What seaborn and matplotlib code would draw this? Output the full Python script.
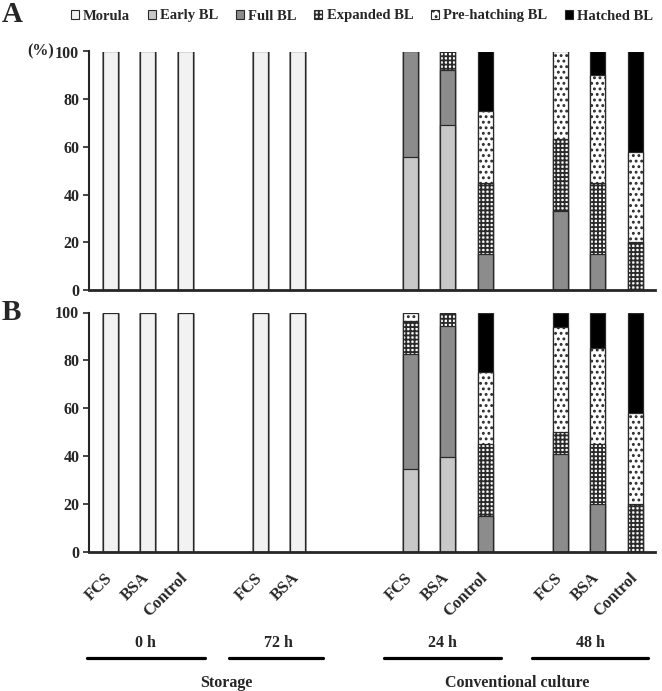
import numpy as np
import pandas as pd
import matplotlib
matplotlib.use("Agg")
import matplotlib.pyplot as plt
import matplotlib.transforms as mtransforms
from matplotlib.patches import Patch
from matplotlib.lines import Line2D
import seaborn as sns

# ---------------- data ----------------
stages = ["Morula", "Early BL", "Full BL", "Expanded BL", "Pre-hatching BL", "Hatched BL"]
treatments = ["FCS", "BSA", "Control", "FCS", "BSA", "FCS", "BSA", "Control", "FCS", "BSA", "Control"]
times = ["0 h", "0 h", "0 h", "72 h", "72 h", "24 h", "24 h", "24 h", "48 h", "48 h", "48 h"]

# Panel A (%)
morula_A   = [100, 100, 100, 100, 100, 0, 0, 0, 0, 0, 0]
early_A    = [0, 0, 0, 0, 0, 55.6, 69.2, 0, 0, 0, 0]
full_A     = [0, 0, 0, 0, 0, 44.4, 23.1, 15, 33.3, 15, 0]
expanded_A = [0, 0, 0, 0, 0, 0, 7.7, 30, 30, 30, 20]
prehatch_A = [0, 0, 0, 0, 0, 0, 0, 30, 36.7, 45, 38]
hatched_A  = [0, 0, 0, 0, 0, 0, 0, 25, 0, 10, 42]

# Panel B (%)
morula_B   = [100, 100, 100, 100, 100, 0, 0, 0, 0, 0, 0]
early_B    = [0, 0, 0, 0, 0, 34.5, 39.5, 0, 0, 0, 0]
full_B     = [0, 0, 0, 0, 0, 48.3, 55, 15, 41, 20, 0]
expanded_B = [0, 0, 0, 0, 0, 13.8, 5.5, 30, 9, 25, 20]
prehatch_B = [0, 0, 0, 0, 0, 3.4, 0, 30, 44, 40, 38]
hatched_B  = [0, 0, 0, 0, 0, 0, 0, 25, 6, 15, 42]

group_labels = ["0 h", "72 h", "24 h", "48 h"]
section_labels = ["Storage", "Conventional culture"]
yticks = [0, 20, 40, 60, 80, 100]

# ---------------- styling ----------------
colors = ["#f2f2f2", "#c8c8c8", "#8c8c8c", "white", "white", "black"]
hatches = [None, None, None, "++++", "...", None]

sns.set_style("ticks")
plt.rcParams["font.family"] = ["Liberation Serif", "DejaVu Serif"]
plt.rcParams["font.weight"] = "bold"
plt.rcParams["hatch.linewidth"] = 1.3
plt.rcParams["hatch.color"] = "black"

# slot order: real bars interleaved with empty gap slots
slot_ids = [f"{t}|{c}" for t, c in zip(times, treatments)]
order = slot_ids[0:3] + ["gap1"] + slot_ids[3:5] + ["gap2", "gap3"] + slot_ids[5:8] + ["gap4"] + slot_ids[8:11]
tick_labels = [s.split("|")[1] if "|" in s else "" for s in order]


def long_df(series):
    rows = []
    for i, sid in enumerate(slot_ids):
        cum = 0
        for st, vals in zip(stages, series):
            cum += vals[i]
            rows.append({"slot": sid, "stage": st, "cum": cum})
    return pd.DataFrame(rows)


dfA = long_df([morula_A, early_A, full_A, expanded_A, prehatch_A, hatched_A])
dfB = long_df([morula_B, early_B, full_B, expanded_B, prehatch_B, hatched_B])

W, H = 662, 691
fig = plt.figure(figsize=(W / 100, H / 100), dpi=100)
axA = fig.add_axes([89 / W, (H - 290) / H, 566 / W, 238.5 / H])
axB = fig.add_axes([89 / W, (H - 552) / H, 566 / W, 239.5 / H])

for ax, df in [(axA, dfA), (axB, dfB)]:
    for st, col, ht in reversed(list(zip(stages, colors, hatches))):
        sub = df[df["stage"] == st]
        sns.barplot(data=sub, x="slot", y="cum", order=order, color=col,
                    saturation=1, width=0.4, errorbar=None, edgecolor="#2a2a2a",
                    linewidth=0.9, hatch=ht, ax=ax)
    ax.set_xlim(-0.57, 14.52)
    ax.set_ylim(0, 100)
    ax.set_yticks(yticks)
    ax.set_yticklabels([str(v) for v in yticks], fontsize=11.5, fontweight="bold")
    ax.set_xlabel("")
    ax.set_ylabel("")
    for s in ["top", "right"]:
        ax.spines[s].set_visible(False)
    ax.spines["left"].set_linewidth(1.5)
    ax.spines["bottom"].set_linewidth(2.0)
    ax.tick_params(axis="y", length=4, width=1.2, pad=3)
    ax.tick_params(axis="x", length=0)

axA.set_xticks(range(len(order)))
axA.set_xticklabels([""] * len(order))

axB.set_xticks(range(len(order)))
axB.set_xticklabels(tick_labels, rotation=45, ha="right", fontsize=12, fontweight="bold")
axB.tick_params(axis="x", pad=13)
offset = mtransforms.ScaledTranslation(0.05, 0, fig.dpi_scale_trans)
for lab in axB.get_xticklabels():
    lab.set_transform(lab.get_transform() + offset)

# "(%)" marker
axA.text(-0.062, 1.0, "(%)", transform=axA.transAxes, ha="right", va="center",
         fontsize=11.5, fontweight="bold")

# panel letters
fig.text(2 / W, 1 - 14 / H, "A", fontsize=21, fontweight="bold", va="center", ha="left")
fig.text(2 / W, 1 - 312 / H, "B", fontsize=21, fontweight="bold", va="center", ha="left")

# group annotations under panel B
trans = mtransforms.blended_transform_factory(axB.transData, axB.transAxes)
group_spans = [(-0.63, 2.52), (3.16, 5.67), (7.29, 10.41), (11.25, 14.34)]
group_centers = [0.94, 4.47, 8.86, 12.79]
for lab, (x0, x1), xc in zip(group_labels, group_spans, group_centers):
    axB.add_line(Line2D([x0, x1], [-0.4426, -0.4426], transform=trans, color="black",
                        linewidth=2.3, clip_on=False))
    axB.text(xc, -0.38, lab, transform=trans, ha="center", va="center",
             fontsize=11.5, fontweight="bold", clip_on=False)
for lab, xc in zip(section_labels, [3.1, 10.85]):
    axB.text(xc, -0.548, lab, transform=trans, ha="center", va="center",
             fontsize=11.5, fontweight="bold", clip_on=False)

# legend
handles = [Patch(facecolor=c, edgecolor="#2a2a2a", hatch=h, linewidth=0.8)
           for c, h in zip(colors, hatches)]
fig.legend(handles, stages, loc="center", bbox_to_anchor=(362 / W, 1 - 16 / H), ncol=6,
           frameon=False, fontsize=10.5, handlelength=0.55, handleheight=0.55,
           handletextpad=0.3, columnspacing=1.2, borderpad=0.1)

fig.savefig("out.png", dpi=100)
